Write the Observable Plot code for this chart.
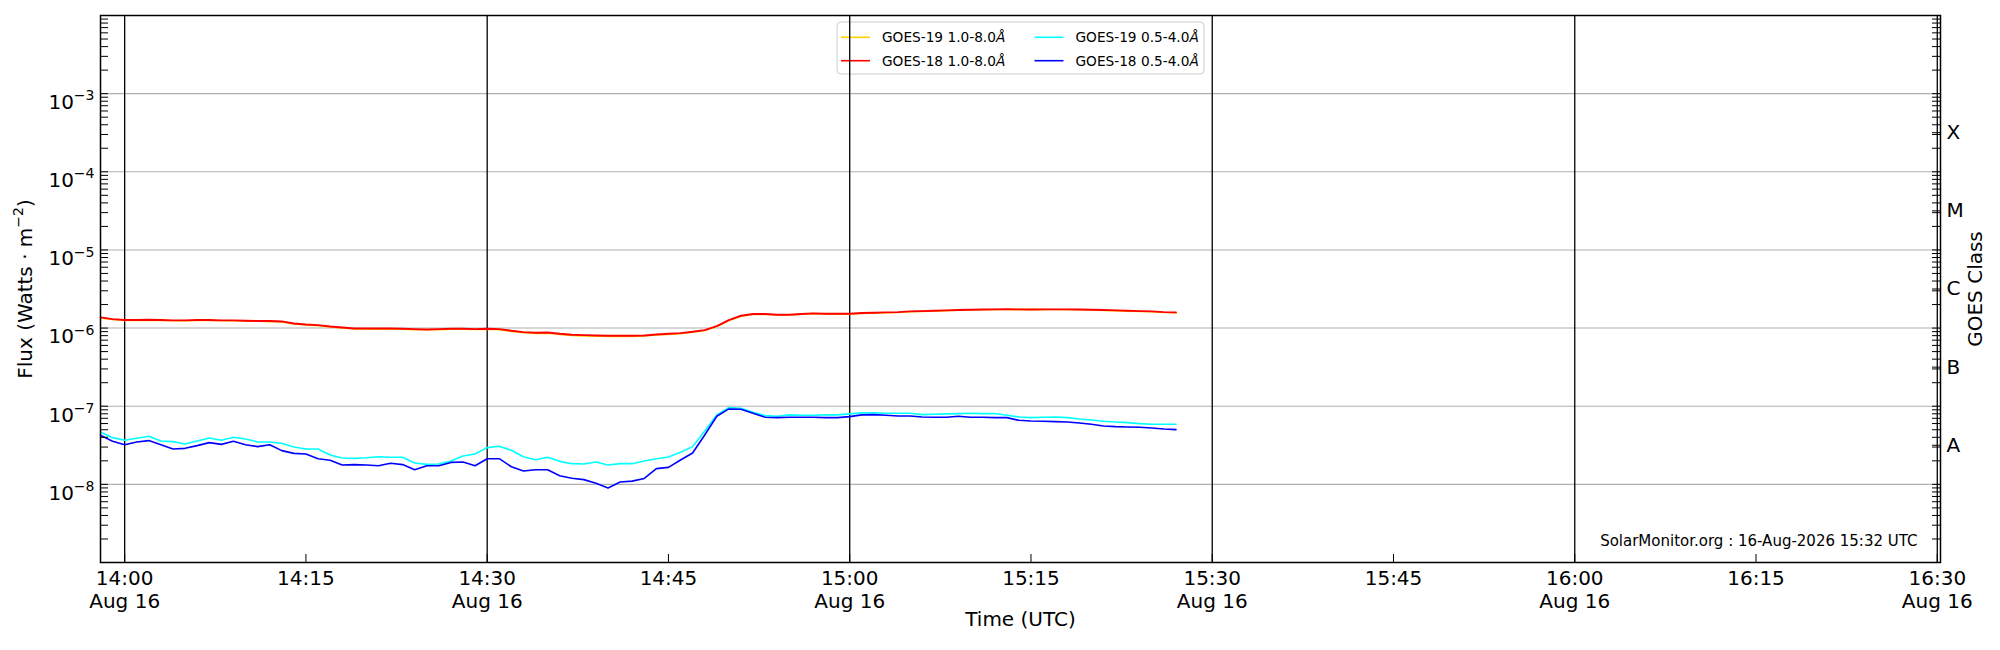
<!DOCTYPE html>
<html>
<head>
<meta charset="utf-8">
<script src="https://cdn.jsdelivr.net/npm/d3@7"></script>
<script src="https://cdn.jsdelivr.net/npm/@observablehq/plot@0.6"></script>
<style>
html, body { margin: 0; padding: 0; background: #ffffff; }
#chart { width: 2000px; height: 650px; overflow: hidden; }
</style>
</head>
<body>
<div id="chart"></div>
<script>
// ---------- data ----------
const day = "2026-08-16";
const times = [
  "13:58","13:59","14:00","14:01","14:02","14:03","14:04","14:05","14:06","14:07",
  "14:08","14:09","14:10","14:11","14:12","14:13","14:14","14:15","14:16","14:17",
  "14:18","14:19","14:20","14:21","14:22","14:23","14:24","14:25","14:26","14:27",
  "14:28","14:29","14:30","14:31","14:32","14:33","14:34","14:35","14:36","14:37",
  "14:38","14:39","14:40","14:41","14:42","14:43","14:44","14:45","14:46","14:47",
  "14:48","14:49","14:50","14:51","14:52","14:53","14:54","14:55","14:56","14:57",
  "14:58","14:59","15:00","15:01","15:02","15:03","15:04","15:05","15:06","15:07",
  "15:08","15:09","15:10","15:11","15:12","15:13","15:14","15:15","15:16","15:17",
  "15:18","15:19","15:20","15:21","15:22","15:23","15:24","15:25","15:26","15:27"
];

// GOES-19 1.0-8.0 Å
const goes19Long = [
  1.35e-6,1.29e-6,1.25e-6,1.25e-6,1.26e-6,1.25e-6,1.24e-6,1.24e-6,1.25e-6,1.25e-6,
  1.24e-6,1.24e-6,1.23e-6,1.22e-6,1.21e-6,1.20e-6,1.13e-6,1.10e-6,1.07e-6,1.03e-6,
  1.00e-6,9.75e-7,9.75e-7,9.70e-7,9.70e-7,9.65e-7,9.55e-7,9.50e-7,9.55e-7,9.65e-7,
  9.70e-7,9.60e-7,9.70e-7,9.55e-7,9.05e-7,8.70e-7,8.55e-7,8.60e-7,8.30e-7,8.05e-7,
  7.95e-7,7.85e-7,7.80e-7,7.80e-7,7.80e-7,7.90e-7,8.15e-7,8.30e-7,8.50e-7,8.85e-7,
  9.30e-7,1.05e-6,1.25e-6,1.42e-6,1.49e-6,1.50e-6,1.47e-6,1.47e-6,1.50e-6,1.53e-6,
  1.51e-6,1.51e-6,1.51e-6,1.54e-6,1.555e-6,1.57e-6,1.585e-6,1.615e-6,1.635e-6,1.655e-6,
  1.67e-6,1.69e-6,1.705e-6,1.715e-6,1.72e-6,1.725e-6,1.72e-6,1.72e-6,1.72e-6,1.725e-6,
  1.72e-6,1.715e-6,1.705e-6,1.685e-6,1.67e-6,1.65e-6,1.635e-6,1.615e-6,1.58e-6,1.565e-6
];
// GOES-18 1.0-8.0 Å
const goes18Long = [
  1.369e-6,1.303e-6,1.266e-6,1.266e-6,1.278e-6,1.266e-6,1.253e-6,1.253e-6,1.266e-6,1.266e-6,
  1.253e-6,1.253e-6,1.241e-6,1.229e-6,1.229e-6,1.216e-6,1.146e-6,1.113e-6,1.091e-6,1.049e-6,
  1.019e-6,9.89e-7,9.89e-7,9.89e-7,9.89e-7,9.79e-7,9.70e-7,9.60e-7,9.70e-7,9.79e-7,
  9.79e-7,9.70e-7,9.79e-7,9.70e-7,9.24e-7,8.88e-7,8.70e-7,8.79e-7,8.45e-7,8.21e-7,
  8.13e-7,8.04e-7,7.97e-7,7.97e-7,7.97e-7,8.04e-7,8.29e-7,8.45e-7,8.62e-7,8.97e-7,
  9.42e-7,1.060e-6,1.266e-6,1.438e-6,1.511e-6,1.511e-6,1.481e-6,1.481e-6,1.511e-6,1.540e-6,
  1.525e-6,1.525e-6,1.525e-6,1.556e-6,1.571e-6,1.586e-6,1.602e-6,1.634e-6,1.650e-6,1.667e-6,
  1.683e-6,1.700e-6,1.716e-6,1.728e-6,1.733e-6,1.738e-6,1.733e-6,1.730e-6,1.733e-6,1.736e-6,
  1.733e-6,1.725e-6,1.716e-6,1.700e-6,1.683e-6,1.667e-6,1.650e-6,1.634e-6,1.602e-6,1.586e-6
];
// GOES-19 0.5-4.0 Å
const goes19Short = [
  4.68e-8,3.96e-8,3.66e-8,3.89e-8,4.12e-8,3.59e-8,3.52e-8,3.29e-8,3.59e-8,3.92e-8,
  3.66e-8,4.00e-8,3.81e-8,3.49e-8,3.49e-8,3.35e-8,3.01e-8,2.84e-8,2.84e-8,2.37e-8,
  2.17e-8,2.15e-8,2.19e-8,2.26e-8,2.22e-8,2.22e-8,1.88e-8,1.80e-8,1.82e-8,1.99e-8,
  2.31e-8,2.45e-8,2.95e-8,3.07e-8,2.73e-8,2.26e-8,2.07e-8,2.22e-8,1.97e-8,1.84e-8,
  1.82e-8,1.93e-8,1.77e-8,1.84e-8,1.84e-8,1.99e-8,2.13e-8,2.24e-8,2.57e-8,3.04e-8,
  4.82e-8,7.74e-8,9.60e-8,9.42e-8,8.37e-8,7.58e-8,7.44e-8,7.74e-8,7.66e-8,7.66e-8,
  7.74e-8,7.74e-8,7.97e-8,8.21e-8,8.21e-8,8.13e-8,8.13e-8,8.13e-8,7.81e-8,7.89e-8,
  7.97e-8,8.05e-8,8.13e-8,8.05e-8,8.05e-8,7.66e-8,7.29e-8,7.15e-8,7.22e-8,7.29e-8,
  7.15e-8,6.87e-8,6.67e-8,6.42e-8,6.29e-8,6.17e-8,5.99e-8,5.87e-8,5.87e-8,5.87e-8
];
// GOES-18 0.5-4.0 Å
const goes18Short = [
  4.24e-8,3.56e-8,3.22e-8,3.49e-8,3.63e-8,3.22e-8,2.84e-8,2.89e-8,3.13e-8,3.42e-8,
  3.25e-8,3.56e-8,3.22e-8,3.04e-8,3.22e-8,2.70e-8,2.49e-8,2.45e-8,2.13e-8,2.03e-8,
  1.77e-8,1.79e-8,1.77e-8,1.73e-8,1.86e-8,1.79e-8,1.54e-8,1.73e-8,1.73e-8,1.91e-8,
  1.93e-8,1.73e-8,2.13e-8,2.13e-8,1.68e-8,1.48e-8,1.54e-8,1.54e-8,1.29e-8,1.20e-8,
  1.15e-8,1.03e-8,8.97e-9,1.07e-8,1.10e-8,1.19e-8,1.59e-8,1.65e-8,2.05e-8,2.52e-8,
  4.29e-8,7.44e-8,9.23e-8,9.15e-8,8.13e-8,7.22e-8,7.15e-8,7.22e-8,7.22e-8,7.22e-8,
  7.15e-8,7.15e-8,7.36e-8,7.74e-8,7.81e-8,7.66e-8,7.51e-8,7.51e-8,7.29e-8,7.22e-8,
  7.22e-8,7.44e-8,7.22e-8,7.22e-8,7.15e-8,7.15e-8,6.61e-8,6.48e-8,6.42e-8,6.35e-8,
  6.29e-8,6.11e-8,5.87e-8,5.59e-8,5.48e-8,5.43e-8,5.38e-8,5.27e-8,5.12e-8,5.02e-8
];

const seriesNames = ["GOES-19 1.0-8.0", "GOES-18 1.0-8.0", "GOES-19 0.5-4.0", "GOES-18 0.5-4.0"];
const seriesColors = ["#ffd000", "#ff0000", "#00ffff", "#0000ff"];
const seriesValues = [goes19Long, goes18Long, goes19Short, goes18Short];

const xDomain = ["13:58:00", "16:30:16"];
const xTickTimes = ["14:00","14:15","14:30","14:45","15:00","15:15","15:30","15:45","16:00","16:15","16:30"];
const xTickLabels = ["14:00\nAug 16","14:15","14:30\nAug 16","14:45","15:00\nAug 16","15:15","15:30\nAug 16","15:45","16:00\nAug 16","16:15","16:30\nAug 16"];
const dayRuleTimes = ["14:00","14:30","15:00","15:30","16:00","16:30"];
const yDomain = [1e-9, 1e-2];
const yTickValues = [1e-3, 1e-4, 1e-5, 1e-6, 1e-7, 1e-8];
const yTickLabels = ["10^{−3}","10^{−4}","10^{−5}","10^{−6}","10^{−7}","10^{−8}"];
const classTickValues = [3.162e-4, 3.162e-5, 3.162e-6, 3.162e-7, 3.162e-8];
const classTickLabels = ["X","M","C","B","A"];
const yTitle = "Flux (Watts · m^{−2})";
const xTitle = "Time (UTC)";
const classTitle = "GOES Class";
const caption = "SolarMonitor.org : 16-Aug-2026 15:32 UTC";

// ---------- build ----------
const toDate = s => new Date(`${day}T${s.length === 5 ? s + ":00" : s}Z`);
const rows = [];
seriesNames.forEach((name, k) => {
  seriesValues[k].forEach((v, i) => rows.push({series: name, time: toDate(times[i]), flux: v}));
});
const xTicks = xTickTimes.map(toDate);
const xLabelMap = new Map(xTicks.map((d, i) => [+d, xTickLabels[i]]));
const yLabelMap = new Map(yTickValues.map((d, i) => [d, yTickLabels[i]]));
const classRows = classTickValues.map((v, i) => ({v, label: classTickLabels[i]}));
const minorTicks = d3.scaleLog().domain(yDomain).ticks();

const W = 2000, H = 650, ML = 100, MR = 60, MT = 15, MB = 88;
const PW = W - ML - MR, PH = H - MT - MB, TICK = 8;

const lineMarks = seriesNames.map((name, k) =>
  Plot.line(rows.filter(r => r.series === name), {
    x: "time", y: "flux", stroke: seriesColors[k],
    strokeWidth: k === 1 ? 1.9 : 1.6, curve: "linear"
  })
);

const svg = Plot.plot({
  width: W, height: H,
  marginLeft: ML, marginRight: MR, marginTop: MT, marginBottom: MB,
  style: {fontFamily: "'DejaVu Sans', sans-serif", fontSize: "20px", background: "#ffffff", color: "#000000"},
  x: {type: "utc", domain: xDomain.map(toDate)},
  y: {type: "log", domain: yDomain},
  marks: [
    Plot.ruleY(yTickValues, {stroke: "#b0b0b0", strokeWidth: 1.1}),
    Plot.ruleX(dayRuleTimes.map(toDate), {stroke: "#000000", strokeWidth: 1.3, ariaLabel: "vlines"}),
    ...lineMarks,
    Plot.tickY(minorTicks, {stroke: "#000000", strokeWidth: 1, insetRight: PW - TICK}),
    Plot.tickY(minorTicks, {stroke: "#000000", strokeWidth: 1, insetLeft: PW - TICK}),
    Plot.tickY(classTickValues, {stroke: "#000000", strokeWidth: 1, insetLeft: PW - TICK}),
    Plot.tickX(xTicks, {stroke: "#000000", strokeWidth: 1, insetTop: PH - TICK}),
    Plot.frame({stroke: "#000000", strokeWidth: 1.5}),
    Plot.axisX(xTicks, {tickSize: 0, tickPadding: 6, tickFormat: d => xLabelMap.get(+d), fontSize: 20, lineHeight: 1.15, label: null}),
    Plot.axisY(yTickValues, {anchor: "left", tickSize: 0, tickPadding: 6, tickFormat: d => yLabelMap.get(d), fontSize: 20, label: null}),
    Plot.text(classRows, {y: "v", text: "label", frameAnchor: "right", dx: 6, textAnchor: "start", fontSize: 20}),
    Plot.text([yTitle], {text: d => d, frameAnchor: "left", dx: -75, rotate: -90, textAnchor: "middle", fontSize: 20}),
    Plot.text([classTitle], {text: d => d, frameAnchor: "right", dx: 35, rotate: -90, textAnchor: "middle", fontSize: 20}),
    Plot.text([xTitle], {text: d => d, frameAnchor: "bottom", dy: 63, fontSize: 20}),
    Plot.text([caption], {text: d => d, frameAnchor: "bottom-right", dx: -23, dy: -17, textAnchor: "end", fontSize: 15})
  ]
});

// ---------- superscripts (mathtext-like) ----------
d3.select(svg).selectAll('g[aria-label="y-axis tick label"] text').each(function() {
  if (this.textContent.includes("^{")) this.setAttribute("dy", "9");
});
d3.select(svg).selectAll("text").each(function() {
  const t = this.textContent;
  if (!t.includes("^{")) return;
  const fs = parseFloat(this.getAttribute("font-size")) || 20;
  const shift = 0.44 * fs;
  const el = d3.select(this);
  el.text(null);
  const re = /\^\{([^}]*)\}/g;
  let last = 0, m, raised = false;
  while ((m = re.exec(t))) {
    if (m.index > last) { el.append("tspan").attr("dy", raised ? shift : null).text(t.slice(last, m.index)); raised = false; }
    el.append("tspan").attr("font-size", 0.7 * fs).attr("dy", raised ? null : -shift).text(m[1]);
    raised = true;
    last = re.lastIndex;
  }
  if (last < t.length) el.append("tspan").attr("dy", raised ? shift : null).text(t.slice(last));
});

// ---------- legend (upper center, two columns) ----------
const lg = d3.create("svg:g").attr("aria-label", "legend").attr("text-anchor", "start");
const LX = 837, LY = 22, LW = 367, LH = 52;
lg.append("rect").attr("x", LX).attr("y", LY).attr("width", LW).attr("height", LH)
  .attr("rx", 4).attr("fill", "#ffffff").attr("fill-opacity", 0.8).attr("stroke", "#cccccc").attr("stroke-width", 1);
[0, 1, 2, 3].forEach(k => {
  const col = Math.floor(k / 2), row = k % 2;
  const x0 = LX + 4 + col * 193.5, cy = LY + 15.3 + row * 23.4;
  lg.append("line").attr("x1", x0).attr("x2", x0 + 29).attr("y1", cy).attr("y2", cy)
    .attr("stroke", seriesColors[k]).attr("stroke-width", 1.6);
  const tx = lg.append("text").attr("x", x0 + 41).attr("y", cy + 4.9).attr("text-anchor", "start")
    .attr("font-family", "'DejaVu Sans', sans-serif").attr("font-size", 13.7).attr("fill", "#000");
  tx.append("tspan").text(seriesNames[k]);
  tx.append("tspan").attr("font-style", "italic").text("Å");
});
let vl = svg.querySelector('g[aria-label="vlines"]');
if (!vl) { const rules = svg.querySelectorAll('g[aria-label="rule"]'); vl = rules[1] || null; }
svg.insertBefore(lg.node(), vl);

document.getElementById("chart").appendChild(svg);
</script>
</body>
</html>
